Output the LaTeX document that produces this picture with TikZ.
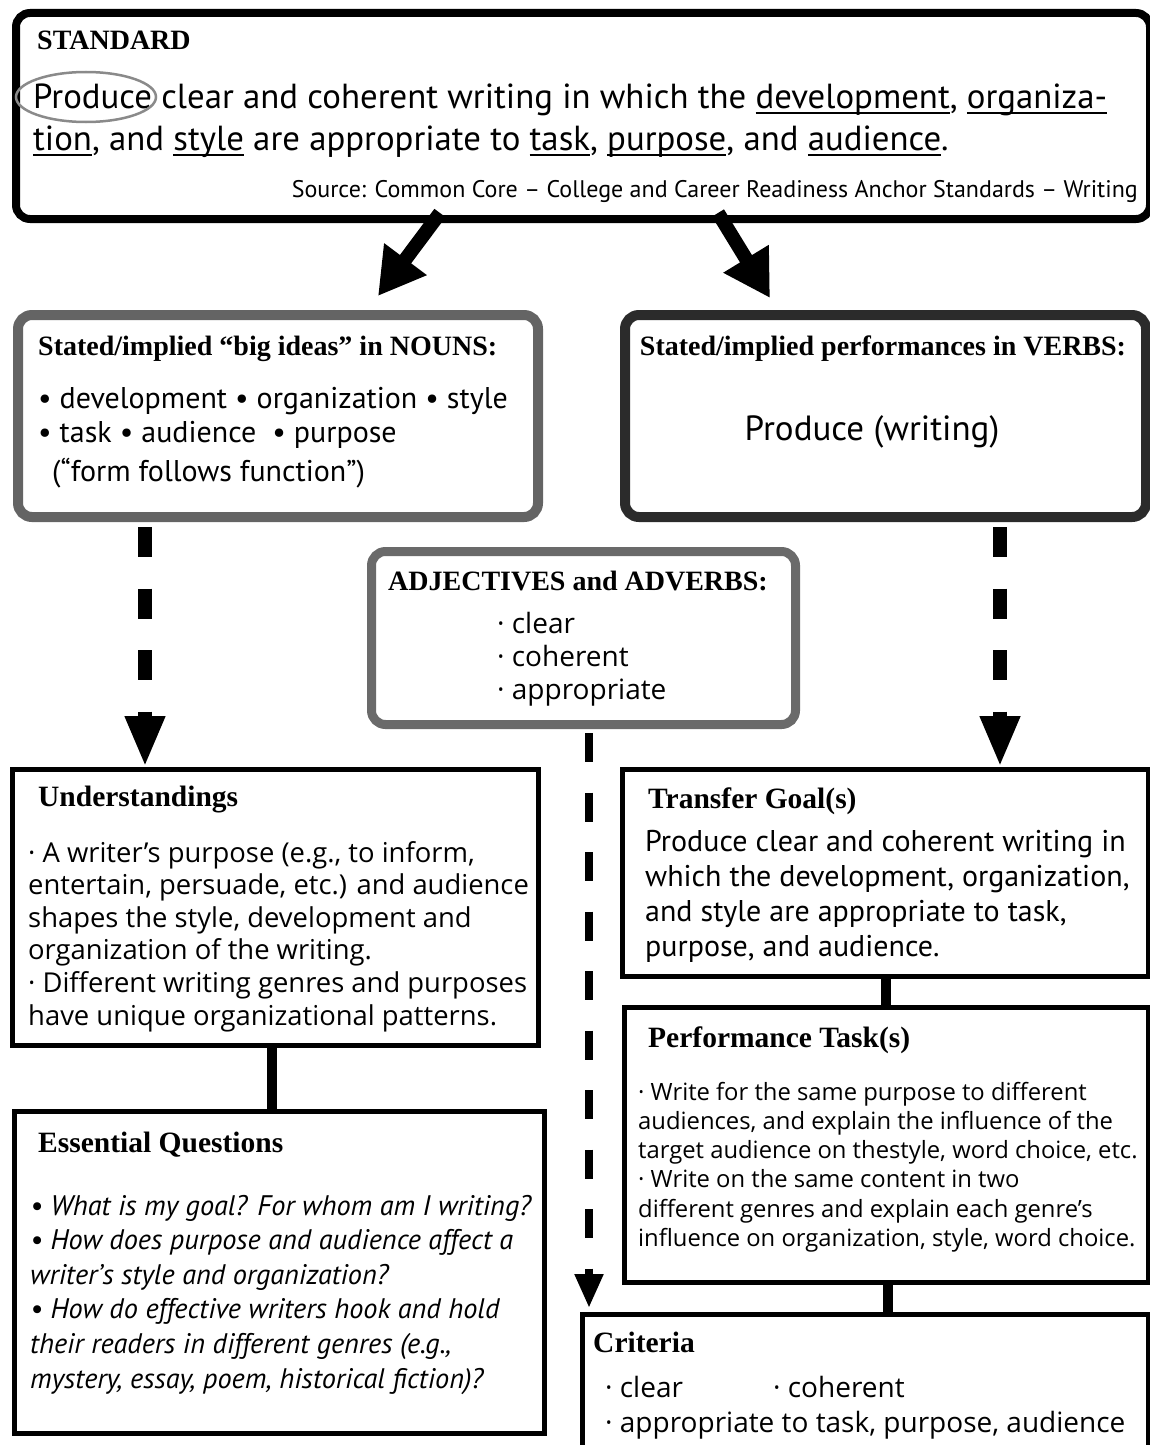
\documentclass[tikz,border=0pt]{standalone}
\usepackage{fontspec}
\setmainfont{Liberation Serif}
\newfontfamily\tahoma{PT Sans}
\newfontfamily\comic{Open Sans}
\usetikzlibrary{arrows.meta,calc}

\definecolor{nounsgray}{HTML}{646464}
\definecolor{verbsgray}{HTML}{2B2B2B}
\definecolor{adjgray}{HTML}{6A6A6A}
\definecolor{ringgray}{HTML}{8A8A8A}

\newsavebox\ulbox
\newcommand\undl[1]{\sbox\ulbox{#1}\rlap{\rule[-6pt]{\wd\ulbox}{1.6pt}}\usebox\ulbox}

\tikzset{
  roundbox/.style={draw,rounded corners=14pt,anchor=north west,inner sep=0pt,fill=white},
  plainbox/.style={draw,line width=5pt,anchor=north west,inner sep=0pt,fill=white},
  head/.style={font=\fontsize{28}{32}\selectfont\bfseries,inner sep=0pt},
  lowhead/.style={head,font=\fontsize{29.5}{33}\selectfont\bfseries,anchor=base west},
  body/.style={inner sep=0pt,align=left,anchor=base west},
  bigarrow/.style={line width=14pt,-{Triangle[length=46pt,width=50pt]}},
  dasharrow/.style={line width=14pt,dash pattern=on 30pt off 31.5pt,-{Triangle[length=51pt,width=37pt]}},
  thinarrow/.style={line width=8pt,dash pattern=on 29pt off 30.5pt,-{Triangle[length=34pt,width=27pt]}},
  link/.style={line width=10pt}
}

\begin{document}
\begin{tikzpicture}[x=1pt,y=-1pt]
\useasboundingbox (0,0) rectangle (1149,1445);

% the standard (multi-line nodes sit on their last baseline)
\node[roundbox,line width=8pt,minimum width=1134pt,minimum height=206pt] (std) at (12,9) {};
\node[head,anchor=base west] (stdh) at (37,50) {STANDARD};
\node[body,font=\tahoma\fontsize{34.8}{42}\selectfont] (stdt) at (33,150)
  {Produce clear and coherent writing in which the \undl{development}, \undl{organiza-}\\
   \undl{tion}, and \undl{style} are appropriate to \undl{task}, \undl{purpose}, and \undl{audience}.};
\draw[ringgray,line width=2.5pt] (86,97) ellipse [x radius=70, y radius=25];
\node[body,anchor=base east,font=\tahoma\fontsize{24}{26}\selectfont] (src) at (1138,197)
  {Source: Common Core – College and Career Readiness Anchor Standards – Writing};

% nouns and verbs
\node[roundbox,draw=nounsgray,line width=10pt,minimum width=520pt,minimum height=202pt] (nouns) at (13,310) {};
\node[head,anchor=base west] (nounsh) at (38,355) {Stated/implied ``big ideas'' in NOUNS:};
\node[body,font=\tahoma\fontsize{30}{34}\selectfont] (nounst) at (38,442)
  {• development • organization • style\\
   • task • audience \ • purpose};
\node[body,font=\tahoma\fontsize{30}{34}\selectfont] (nounsf) at (52,481) {(“form follows function”)};

\node[roundbox,draw=verbsgray,line width=10pt,minimum width=521pt,minimum height=202pt] (verbs) at (620,310) {};
\node[head,anchor=base] (verbsh) at (883,355) {Stated/implied performances in VERBS:};
\node[body,anchor=base,font=\tahoma\fontsize{35}{40}\selectfont] (verbst) at (872,440) {Produce (writing)};

\coordinate (tailL) at (440,213);
\coordinate (tipL) at (378,296);
\coordinate (tailR) at (718,213);
\coordinate (tipR) at (770,298);
\draw[bigarrow] (tailL) -- (tipL);
\draw[bigarrow] (tailR) -- (tipR);

% adjectives
\node[roundbox,draw=adjgray,line width=9pt,minimum width=424pt,minimum height=173pt] (adj) at (367,547) {};
\node[head,anchor=base] (adjh) at (578,590) {ADJECTIVES and ADVERBS:};
\node[body,font=\comic\fontsize{28}{33}\selectfont] (adjt) at (497,699)
  {· clear\\ · coherent\\ · appropriate};

% understandings and questions
\node[plainbox,minimum width=526pt,minimum height=276pt] (und) at (10,767) {};
\node[lowhead] (undh) at (38,806) {Understandings};
\node[body,font=\comic\fontsize{27.4}{32.6}\selectfont] (undt) at (28,1025)
  {· A writer’s purpose (e.g., to inform,\\
   entertain, persuade, etc.) and audience\\
   shapes the style, development and\\
   organization of the writing.\\
   · Different writing genres and purposes\\
   have unique organizational patterns.};

\node[plainbox,minimum width=530pt,minimum height=322pt] (eq) at (12,1109) {};
\node[lowhead] (eqh) at (38,1152) {Essential Questions};
\node[body,font=\tahoma\itshape\fontsize{28.3}{34.6}\selectfont] (eqt) at (30,1388)
  {• What is my goal? For whom am I writing?\\
   • How does purpose and audience affect a\\
   writer’s style and organization?\\
   • How do effective writers hook and hold\\
   their readers in different genres (e.g.,\\
   mystery, essay, poem, historical fiction)?};

% transfer, tasks, criteria
\node[plainbox,minimum width=526pt,minimum height=207pt] (tg) at (620,767) {};
\node[lowhead] (tgh) at (648,808) {Transfer Goal(s)};
\node[body,font=\tahoma\fontsize{30}{34.7}\selectfont] (tgt) at (645,956)
  {Produce clear and coherent writing in\\
   which the development, organization,\\
   and style are appropriate to task,\\
   purpose, and audience.};

\node[plainbox,minimum width=524pt,minimum height=275pt] (pt) at (622,1005) {};
\node[lowhead] (pth) at (648,1047) {Performance Task(s)};
\node[body,font=\comic\fontsize{23.8}{29.3}\selectfont] (ptt) at (638,1246.5)
  {· Write for the same purpose to different\\
   audiences, and explain the influence of the\\
   target audience on thestyle, word choice, etc.\\
   · Write on the same content in two\\
   different genres and explain each genre’s\\
   influence on organization, style, word choice.};

\node[plainbox,minimum width=566pt,minimum height=150pt] (crit) at (580,1312) {};
\node[lowhead] (crith) at (593,1352) {Criteria};
\node[body,font=\comic\fontsize{28}{35}\selectfont] (critt) at (605,1432)
  {\makebox[168pt][l]{· clear}· coherent\\
   · appropriate to task, purpose, audience};

% connectors
\coordinate (colL) at (145,0);
\coordinate (colM) at (589,0);
\coordinate (colR) at (1000,0);
\draw[dasharrow,shorten <=5pt] (nouns.south -| colL) -- (und.north -| colL);
\draw[dasharrow,shorten <=5pt] (verbs.south -| colR) -- (tg.north -| colR);
\draw[thinarrow,shorten <=4pt,shorten >=4pt] (adj.south -| colM) -- (crit.north -| colM);
\draw[link] (und.south -| 272,0) -- (eq.north -| 272,0);
\draw[link] (tg.south -| 886,0) -- (pt.north -| 886,0);
\draw[link] (pt.south -| 888,0) -- (crit.north -| 888,0);
\end{tikzpicture}
\end{document}
